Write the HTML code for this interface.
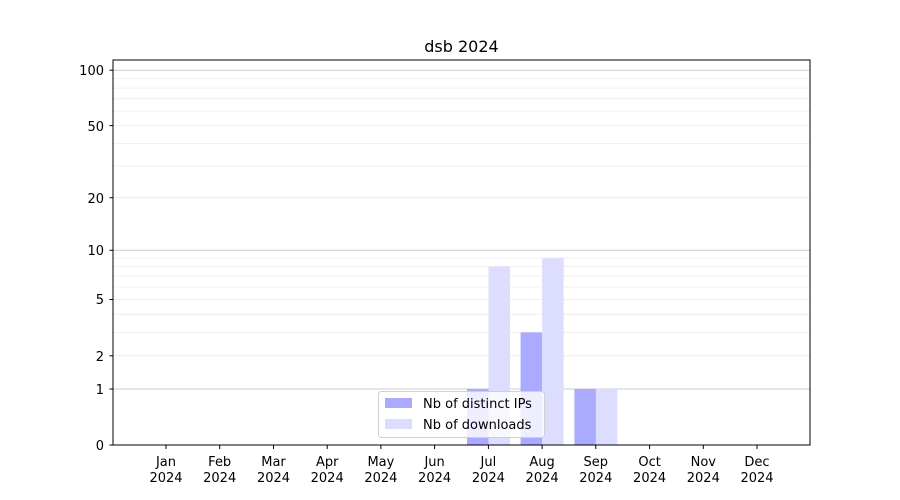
<!DOCTYPE html>
<html><head><meta charset="utf-8"><style>
body{margin:0;background:#fff}
svg{display:block;font-family:"DejaVu Sans","Liberation Sans",sans-serif}
</style></head><body>
<svg width="900" height="500" xmlns="http://www.w3.org/2000/svg">
<rect width="900" height="500" fill="#fff"/>
<g stroke="#ebebeb" stroke-width="0.8">
<line x1="113" x2="810" y1="355.8" y2="355.8"/><line x1="113" x2="810" y1="332.4" y2="332.4"/>
<line x1="113" x2="810" y1="314.3" y2="314.3"/><line x1="113" x2="810" y1="299.5" y2="299.5"/>
<line x1="113" x2="810" y1="287" y2="287"/><line x1="113" x2="810" y1="276.1" y2="276.1"/>
<line x1="113" x2="810" y1="266.5" y2="266.5"/><line x1="113" x2="810" y1="258" y2="258"/>
<line x1="113" x2="810" y1="197.7" y2="197.7"/><line x1="113" x2="810" y1="166.1" y2="166.1"/>
<line x1="113" x2="810" y1="143.4" y2="143.4"/><line x1="113" x2="810" y1="125.6" y2="125.6"/>
<line x1="113" x2="810" y1="111.1" y2="111.1"/><line x1="113" x2="810" y1="98.8" y2="98.8"/>
<line x1="113" x2="810" y1="88.1" y2="88.1"/><line x1="113" x2="810" y1="78.6" y2="78.6"/>
</g>
<g stroke="#cccccc" stroke-width="1">
<line x1="113" x2="810" y1="389" y2="389"/><line x1="113" x2="810" y1="250.3" y2="250.3"/><line x1="113" x2="810" y1="70.2" y2="70.2"/>
</g>
<g fill="#aaaaff">
<rect x="467" y="389" width="21.5" height="56"/>
<rect x="520.6" y="332.4" width="21.5" height="112.6"/>
<rect x="574.4" y="389" width="21.5" height="56"/>
</g>
<g fill="#ddddff">
<rect x="488.5" y="266.5" width="21.5" height="178.5"/>
<rect x="542.1" y="258" width="21.5" height="187"/>
<rect x="595.9" y="389" width="21.5" height="56"/>
</g>
<rect x="113" y="60" width="697" height="385" fill="none" stroke="#000" stroke-width="1"/>
<g stroke="#000" stroke-width="1">
<line x1="109.5" x2="113" y1="445" y2="445"/><line x1="109.5" x2="113" y1="389" y2="389"/>
<line x1="109.5" x2="113" y1="355.8" y2="355.8"/><line x1="109.5" x2="113" y1="299.5" y2="299.5"/>
<line x1="109.5" x2="113" y1="250.3" y2="250.3"/><line x1="109.5" x2="113" y1="197.7" y2="197.7"/>
<line x1="109.5" x2="113" y1="125.6" y2="125.6"/><line x1="109.5" x2="113" y1="70.2" y2="70.2"/>
</g>
<g font-size="13" text-anchor="end" fill="#000">
<text x="104" y="450">0</text><text x="104" y="394">1</text><text x="104" y="361">2</text>
<text x="104" y="304">5</text><text x="104" y="255">10</text><text x="104" y="203">20</text>
<text x="104" y="131">50</text><text x="104" y="75">100</text>
</g>
<g font-size="13" text-anchor="middle" fill="#000">
<g stroke="#000"><line x1="166" x2="166" y1="445" y2="449"/><line x1="219.7" x2="219.7" y1="445" y2="449"/><line x1="273.5" x2="273.5" y1="445" y2="449"/><line x1="327.2" x2="327.2" y1="445" y2="449"/><line x1="380.9" x2="380.9" y1="445" y2="449"/><line x1="434.6" x2="434.6" y1="445" y2="449"/><line x1="488.4" x2="488.4" y1="445" y2="449"/><line x1="542.1" x2="542.1" y1="445" y2="449"/><line x1="595.8" x2="595.8" y1="445" y2="449"/><line x1="649.6" x2="649.6" y1="445" y2="449"/><line x1="703.3" x2="703.3" y1="445" y2="449"/><line x1="757" x2="757" y1="445" y2="449"/></g>
<text x="166" y="466">Jan</text><text x="166" y="482">2024</text>
<text x="219.7" y="466">Feb</text><text x="219.7" y="482">2024</text>
<text x="273.5" y="466">Mar</text><text x="273.5" y="482">2024</text>
<text x="327.2" y="466">Apr</text><text x="327.2" y="482">2024</text>
<text x="380.9" y="466">May</text><text x="380.9" y="482">2024</text>
<text x="434.6" y="466">Jun</text><text x="434.6" y="482">2024</text>
<text x="488.4" y="466">Jul</text><text x="488.4" y="482">2024</text>
<text x="542.1" y="466">Aug</text><text x="542.1" y="482">2024</text>
<text x="595.8" y="466">Sep</text><text x="595.8" y="482">2024</text>
<text x="649.6" y="466">Oct</text><text x="649.6" y="482">2024</text>
<text x="703.3" y="466">Nov</text><text x="703.3" y="482">2024</text>
<text x="757" y="466">Dec</text><text x="757" y="482">2024</text>
<text x="461.5" y="52" font-size="16">dsb 2024</text>
</g>
<rect x="378.5" y="391.5" width="166" height="46" rx="3" fill="#fff" fill-opacity="0.8" stroke="#d0d0d0"/>
<rect x="385" y="398" width="27" height="10" fill="#aaaaff"/>
<rect x="385" y="419" width="27" height="10" fill="#ddddff"/>
<text x="423" y="408" font-size="13">Nb of distinct IPs</text>
<text x="423" y="429" font-size="13">Nb of downloads</text>
</svg>
</body></html>
